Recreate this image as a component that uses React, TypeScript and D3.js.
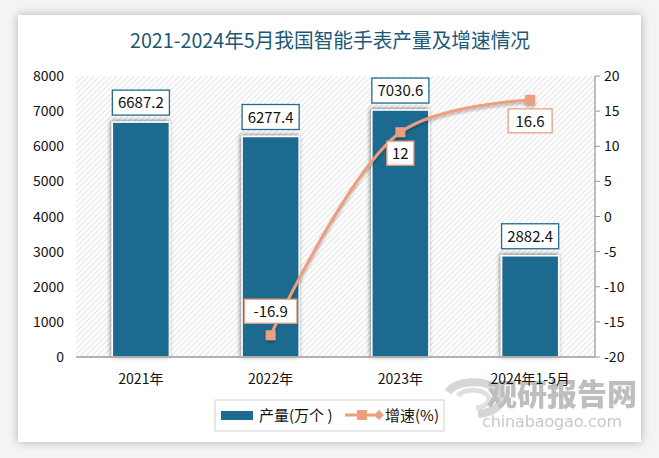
import React from "react";
import * as d3 from "d3";

const categories = ["2021年", "2022年", "2023年", "2024年1-5月"];
const production = [6687.2, 6277.4, 7030.6, 2882.4];
const growth: (number | null)[] = [null, -16.9, 12, 16.6];
const leftTicks = [0, 1000, 2000, 3000, 4000, 5000, 6000, 7000, 8000];
const rightTicks = [-20, -15, -10, -5, 0, 5, 10, 15, 20];
const growthLabelPos = ["none", "above", "below", "below"];

const W = 659;
const H = 458;
const plot = { x0: 76, x1: 595, y0: 76, y1: 357 };
const BAR = "#1e6b8f";
const LINE = "#ec9e7e";
const FONT = "'Noto Sans CJK SC', 'Noto Sans', sans-serif";

export default function App() {
  const x = d3.scaleBand<string>().domain(categories).range([plot.x0, plot.x1]).paddingInner(0.56).paddingOuter(0.28);
  const yL = d3.scaleLinear().domain([0, 8000]).range([plot.y1, plot.y0]);
  const yR = d3.scaleLinear().domain([-20, 20]).range([plot.y1, plot.y0]);
  const cx = (c: string) => (x(c) as number) + x.bandwidth() / 2;

  const pts = categories
    .map((c, i) => ({ c, v: growth[i], i }))
    .filter((d) => d.v !== null) as { c: string; v: number; i: number }[];
  const lineGen = d3
    .line<{ c: string; v: number }>()
    .x((d) => cx(d.c))
    .y((d) => yR(d.v))
    .curve(d3.curveCatmullRom.alpha(0.5));

  return (
    <svg width={W} height={H} style={{ position: "absolute", left: 0, top: 0 }}>
      <defs>
        <pattern id="hatch" width="4" height="4" patternUnits="userSpaceOnUse" patternTransform="rotate(45)">
          <rect width="4" height="4" fill="#ffffff" />
          <line x1="0" y1="0" x2="0" y2="4" stroke="#d4d4d4" strokeWidth="1.3" />
        </pattern>
        <filter id="panelShadow" x="-10%" y="-10%" width="120%" height="120%">
          <feDropShadow dx="0" dy="0" stdDeviation="5" floodColor="#000" floodOpacity="0.28" />
        </filter>
        <filter id="barShadow" x="-30%" y="-10%" width="160%" height="120%">
          <feDropShadow dx="-1" dy="-1" stdDeviation="2" floodColor="#000" floodOpacity="0.5" />
        </filter>
        <filter id="lineShadow" x="-10%" y="-10%" width="120%" height="120%">
          <feDropShadow dx="0" dy="2" stdDeviation="1.5" floodColor="#000" floodOpacity="0.3" />
        </filter>
      </defs>
      <rect x={0} y={0} width={W} height={H} fill="#f4f4f4" />
      <rect x={18} y={15} width={623} height={427} fill="#ffffff" filter="url(#panelShadow)" />

      <text x={330} y={48} textAnchor="middle" fontFamily={FONT} fontSize={20} fill="#1d5876" textLength={400} lengthAdjust="spacingAndGlyphs">
        2021-2024年5月我国智能手表产量及增速情况
      </text>

      <rect x={plot.x0} y={plot.y0} width={plot.x1 - plot.x0} height={plot.y1 - plot.y0} fill="url(#hatch)" />

      {/* watermark */}
      <g opacity={0.55}>
        <path d="M448,392 a28,16 0 1,1 30,22" fill="none" stroke="#b5b5b5" strokeWidth={8} />
        <path d="M458,396 a16,9 0 1,1 18,12" fill="none" stroke="#c8c8c8" strokeWidth={5} />
        <text x={487} y={405} fontFamily={FONT} fontSize={30} fontWeight={900} fill="#8a8a8a">观研报告网</text>
        <text x={482} y={427} fontFamily="'DejaVu Sans', sans-serif" fontSize={16} fill="#9a9a9a" textLength={140}>chinabaogao.com</text>
      </g>

      {/* bars */}
      {categories.map((c, i) => (
        <g key={c}>
          <rect x={x(c)} y={yL(production[i])} width={x.bandwidth()} height={plot.y1 - yL(production[i])} fill={BAR} stroke="#ffffff" strokeWidth={1.5} filter="url(#barShadow)" />
          <rect x={x(c)} y={yL(production[i]) - 32} width={x.bandwidth()} height={25} fill="#ffffff" stroke={BAR} strokeWidth={1.3} />
          <text x={cx(c)} y={yL(production[i]) - 14} textAnchor="middle" fontFamily={FONT} fontSize={15} fill="#111">
            {production[i].toFixed(1)}
          </text>
        </g>
      ))}

      {/* axes */}
      <line x1={plot.x0} x2={plot.x1} y1={plot.y1} y2={plot.y1} stroke="#9a9a9a" strokeWidth={1.3} />
      <line x1={plot.x1} x2={plot.x1} y1={plot.y0} y2={plot.y1} stroke="#9a9a9a" strokeWidth={1.3} />
      {leftTicks.map((t) => (
        <text key={t} x={64} y={yL(t) + 5} textAnchor="end" fontFamily={FONT} fontSize={14} fill="#111">{t}</text>
      ))}
      {rightTicks.map((t) => (
        <g key={t}>
          <line x1={plot.x1} x2={plot.x1 + 5} y1={yR(t)} y2={yR(t)} stroke="#9a9a9a" />
          <text x={plot.x1 + 9} y={yR(t) + 5} fontFamily={FONT} fontSize={14} fill="#111">{t}</text>
        </g>
      ))}
      {categories.map((c) => (
        <text key={c} x={cx(c)} y={384} textAnchor="middle" fontFamily={FONT} fontSize={14} fill="#111">{c}</text>
      ))}

      {/* line */}
      <g filter="url(#lineShadow)">
        <path d={lineGen(pts) || ""} fill="none" stroke={LINE} strokeWidth={3} />
        {pts.map((p) => (
          <rect key={p.c} x={cx(p.c) - 5} y={yR(p.v) - 5} width={10} height={10} fill={LINE} />
        ))}
      </g>
      {pts.map((p) => {
        const label = String(p.v);
        const w = label.length * 8.5 + 10;
        const pos = growthLabelPos[p.i];
        const by = pos === "above" ? yR(p.v) - 36 : yR(p.v) + 9;
        return (
          <g key={p.c + "l"}>
            <rect x={cx(p.c) - w / 2} y={by} width={w} height={24} fill="#ffffff" stroke={LINE} strokeWidth={1.3} />
            <text x={cx(p.c)} y={by + 18} textAnchor="middle" fontFamily={FONT} fontSize={15} fill="#111">{label}</text>
          </g>
        );
      })}

      {/* legend */}
      <rect x={215} y={400} width={229} height={31} fill="#ffffff" stroke="#d0d0d0" />
      <rect x={221} y={411} width={32} height={9} fill={BAR} />
      <text x={259} y={421} fontFamily={FONT} fontSize={15} fill="#111">产量(万个 )</text>
      <line x1={345} x2={379} y1={415} y2={415} stroke={LINE} strokeWidth={3} />
      <rect x={357} y={410} width={10} height={10} fill={LINE} />
      <path d="M379,410 L384,415 L379,420 L374,415 Z" fill={LINE} />
      <text x={385} y={421} fontFamily={FONT} fontSize={15} fill="#111">增速(%)</text>
    </svg>
  );
}
